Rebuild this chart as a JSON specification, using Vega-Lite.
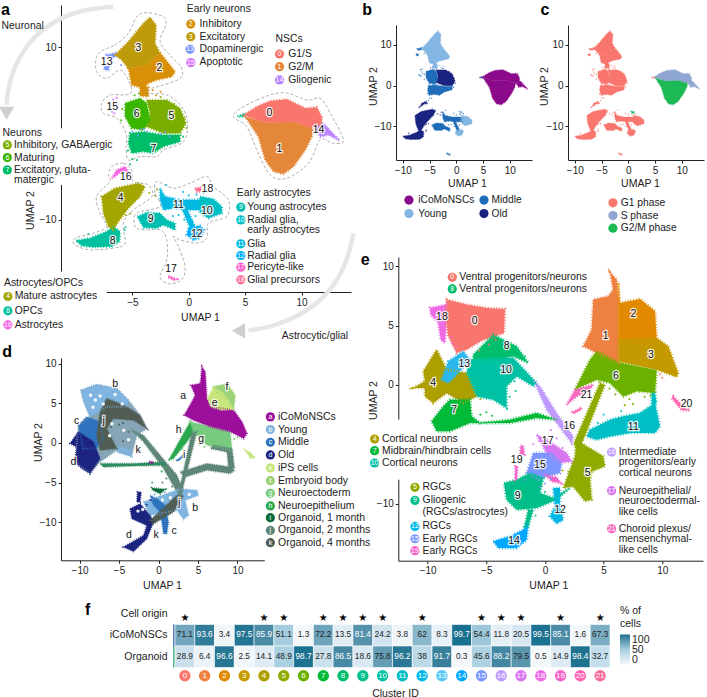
{"$schema":"https://vega.github.io/schema/vega-lite/v6.json","autosize":{"type":"none"},"padding":{"left":61,"top":5,"right":646,"bottom":692},"bounds":"flush","spacing":598,"resolve":{"scale":{"color":"independent","fill":"independent"}},
"config":{"view":{"stroke":null},"font":"Liberation Sans","text":{"font":"Liberation Sans","color":"#222"},"axis":{"grid":false,"domainColor":"#222","tickColor":"#222","labelColor":"#222","titleColor":"#222","titleFontWeight":"normal","tickSize":3,"labelFontSize":10,"titleFontSize":10.5,"labelPadding":2,"labelFont":"Liberation Sans","titleFont":"Liberation Sans","titleBaseline":"middle"}},
"datasets":{
"polyA":[
{"c":"3","x":-6.54,"y":9.07},{"c":"3","x":-5.36,"y":10.62},{"c":"3","x":-4.02,"y":12.74},{"c":"3","x":-3.43,"y":13.44},{"c":"3","x":-2.9,"y":12.55},{"c":"3","x":-2.99,"y":10.42},{"c":"3","x":-2.54,"y":9.27},{"c":"3","x":-3.73,"y":7.92},{"c":"3","x":-5.36,"y":7.53},{"c":"3","x":-5.95,"y":8.49},
{"c":"2","x":-5.36,"y":7.53},{"c":"2","x":-3.73,"y":7.92},{"c":"2","x":-2.54,"y":9.27},{"c":"2","x":-2.25,"y":8.88},{"c":"2","x":-1.21,"y":7.14},{"c":"2","x":-1.51,"y":6.56},{"c":"2","x":-2.84,"y":6.18},{"c":"2","x":-3.58,"y":5.79},{"c":"2","x":-4.02,"y":5.21},{"c":"2","x":-5.06,"y":5.6},
{"c":"2","p":"2b","x":-4.32,"y":5.6},{"c":"2","p":"2b","x":-3.58,"y":5.33},{"c":"2","p":"2b","x":-3.58,"y":4.25},{"c":"2","p":"2b","x":-4.32,"y":4.32},
{"c":"13","p":"13a","x":-7.28,"y":9.07},{"c":"13","p":"13a","x":-6.54,"y":9.27},{"c":"13","p":"13a","x":-6.54,"y":8.8},{"c":"13","p":"13a","x":-7.13,"y":8.69},
{"c":"13","p":"13b","x":-7.51,"y":7.8},{"c":"13","p":"13b","x":-7.04,"y":7.8},{"c":"13","p":"13b","x":-7.13,"y":7.34},{"c":"13","p":"13b","x":-7.46,"y":7.34},
{"c":"5","x":-3.73,"y":3.86},{"c":"5","x":-1.95,"y":3.86},{"c":"5","x":-0.77,"y":2.9},{"c":"5","x":-0.24,"y":1.16},{"c":"5","x":-0.77,"y":0},{"c":"5","x":-2.25,"y":0},{"c":"5","x":-3.73,"y":0.77},{"c":"5","x":-3.43,"y":2.32},
{"c":"7","x":-5.21,"y":0},{"c":"7","x":-4.02,"y":0.19},{"c":"7","x":-2.25,"y":-0.19},{"c":"7","x":-0.77,"y":-0.19},{"c":"7","x":-0.77,"y":-0.97},{"c":"7","x":-2.25,"y":-1.54},{"c":"7","x":-3.14,"y":-2.32},{"c":"7","x":-4.02,"y":-2.12},{"c":"7","x":-5.06,"y":-2.32},{"c":"7","x":-5.36,"y":-1.16},
{"c":"6","x":-5.65,"y":3.47},{"c":"6","x":-4.32,"y":4.05},{"c":"6","x":-3.73,"y":3.47},{"c":"6","x":-3.43,"y":1.54},{"c":"6","x":-4.02,"y":0.39},{"c":"6","x":-5.06,"y":0.58},{"c":"6","x":-5.65,"y":1.93},
{"c":"1","x":5,"y":1.93},{"c":"1","x":6.04,"y":1.54},{"c":"1","x":6.92,"y":1.24},{"c":"1","x":9.29,"y":1.35},{"c":"1","x":11.07,"y":0.58},{"c":"1","x":10.92,"y":-0.39},{"c":"1","x":10.33,"y":-1.93},{"c":"1","x":9.29,"y":-3.86},{"c":"1","x":8.4,"y":-4.71},{"c":"1","x":7.51,"y":-4.44},{"c":"1","x":6.78,"y":-3.09},{"c":"1","x":6.18,"y":-0.39},
{"c":"0","x":4.85,"y":2.12},{"c":"0","x":6.04,"y":3.09},{"c":"0","x":7.22,"y":3.75},{"c":"0","x":8.7,"y":3.94},{"c":"0","x":10.33,"y":2.9},{"c":"0","x":11.36,"y":3.01},{"c":"0","x":11.8,"y":1.93},{"c":"0","x":11.8,"y":0.97},{"c":"0","x":11.07,"y":0.58},{"c":"0","x":9.29,"y":1.35},{"c":"0","x":6.92,"y":1.24},{"c":"0","x":6.04,"y":1.54},
{"c":"14","x":11.21,"y":0.58},{"c":"14","x":11.95,"y":1.16},{"c":"14","x":13.37,"y":-0.85},{"c":"14","x":12.4,"y":-0.19},{"c":"14","x":11.66,"y":-0.39},
{"c":"8","p":"tip","x":4.32,"y":1.97},{"c":"8","p":"tip","x":4.85,"y":2.16},{"c":"8","p":"tip","x":4.85,"y":1.93},
{"c":"8","x":-10,"y":-12.43},{"c":"8","x":-8.76,"y":-12.16},{"c":"8","x":-7.28,"y":-11.39},{"c":"8","x":-6.69,"y":-10.81},{"c":"8","x":-6.09,"y":-11.39},{"c":"8","x":-6.15,"y":-12.55},{"c":"8","x":-6.83,"y":-13.13},{"c":"8","x":-8.46,"y":-13.2},{"c":"8","x":-9.5,"y":-13.05},
{"c":"4","x":-7.72,"y":-7.34},{"c":"4","x":-6.54,"y":-6.37},{"c":"4","x":-4.47,"y":-5.79},{"c":"4","x":-3.88,"y":-6.18},{"c":"4","x":-4.32,"y":-7.34},{"c":"4","x":-5.36,"y":-8.69},{"c":"4","x":-6.24,"y":-10.23},{"c":"4","x":-6.69,"y":-11.2},{"c":"4","x":-7.13,"y":-10.81},{"c":"4","x":-7.57,"y":-9.27},
{"c":"9","x":-4.56,"y":-9.65},{"c":"9","x":-3.73,"y":-9.19},{"c":"9","x":-2.54,"y":-9.27},{"c":"9","x":-1.95,"y":-10.04},{"c":"9","x":-1.21,"y":-10.42},{"c":"9","x":-1.21,"y":-11.2},{"c":"9","x":-2.25,"y":-10.62},{"c":"9","x":-2.84,"y":-11},{"c":"9","x":-4.02,"y":-10.93},
{"c":"11","x":-2.54,"y":-6.37},{"c":"11","x":-2.1,"y":-7.34},{"c":"11","x":-0.77,"y":-7.72},{"c":"11","x":1.01,"y":-7.72},{"c":"11","x":1.01,"y":-8.88},{"c":"11","x":-0.18,"y":-8.88},{"c":"11","x":-1.36,"y":-8.69},{"c":"11","x":-2.25,"y":-8.88},{"c":"11","x":-2.54,"y":-7.72},
{"c":"11","p":"11b","x":-0.62,"y":-8.69},{"c":"11","p":"11b","x":-0.18,"y":-8.69},{"c":"11","p":"11b","x":0.56,"y":-10.81},{"c":"11","p":"11b","x":0.12,"y":-11},
{"c":"10","x":1.01,"y":-7.34},{"c":"10","x":2.19,"y":-7.61},{"c":"10","x":2.93,"y":-8.49},{"c":"10","x":2.93,"y":-9.27},{"c":"10","x":1.75,"y":-9.85},{"c":"10","x":1.01,"y":-9.27},{"c":"10","x":0.86,"y":-8.3},
{"c":"12","x":-0.03,"y":-11},{"c":"12","x":1.01,"y":-10.73},{"c":"12","x":1.36,"y":-11.2},{"c":"12","x":1.01,"y":-12.16},{"c":"12","x":0.41,"y":-12.36},{"c":"12","x":-0.18,"y":-11.78},
{"c":"18","x":0.56,"y":-6.37},{"c":"18","x":1.09,"y":-6.25},{"c":"18","x":1.07,"y":-6.76},{"c":"18","x":0.71,"y":-6.76},
{"c":"16","x":-6.83,"y":-5.21},{"c":"16","x":-6.39,"y":-4.25},{"c":"16","x":-5.65,"y":-3.86},{"c":"16","x":-5.36,"y":-4.44},{"c":"16","x":-5.95,"y":-4.44},{"c":"16","x":-6.54,"y":-5.02},
{"c":"17","x":-1.8,"y":-16.53},{"c":"17","x":-1.07,"y":-16.91},{"c":"17","x":-1.3,"y":-17.03},{"c":"17","x":-1.8,"y":-16.72}
],
"specksA":[{"c":"15","x":-6.7,"y":3.9},{"c":"15","x":-6.8,"y":2.5},{"c":"15","x":-6.5,"y":3.4},{"c":"15","x":-7,"y":2.7},{"c":"15","x":-6.3,"y":2.9},{"c":"15","x":-6.6,"y":2.3},{"c":"15","x":-6.4,"y":4.1},{"c":"13","x":-6,"y":7.9},{"c":"2","x":-3.2,"y":5},{"c":"2","x":-3.6,"y":4.6},{"c":"2","x":-2.9,"y":4.4},{"c":"2","x":-2.5,"y":4.8},{"c":"6","x":-5.9,"y":2.8},{"c":"6","x":-6,"y":1.5},{"c":"6","x":-4.8,"y":4.4},{"c":"6","x":-4.4,"y":4.6},{"c":"5","x":-2.5,"y":4.2},{"c":"5","x":-1.3,"y":3.4},{"c":"5","x":-0.4,"y":1.8},{"c":"5","x":-0.2,"y":0.6},{"c":"13","x":-4,"y":0.5},{"c":"13","x":-3.7,"y":0.2},{"c":"13","x":-4.3,"y":0.4},{"c":"13","x":-2.5,"y":-0.1},{"c":"13","x":-2.1,"y":0.1},{"c":"13","x":-1.7,"y":-0.4},{"c":"13","x":-5,"y":0.2},{"c":"13","x":-4.5,"y":-0.3},{"c":"7","x":-5.4,"y":-2},{"c":"7","x":-5,"y":-3},{"c":"7","x":-4.6,"y":-3.1},{"c":"7","x":-5.2,"y":-3.6},{"c":"7","x":-0.5,"y":-0.4},{"c":"4","x":-3.5,"y":-6.9},{"c":"4","x":-3,"y":-7.2},{"c":"4","x":-2.8,"y":-6.5},{"c":"4","x":-5.6,"y":-9.5},{"c":"4","x":-5.2,"y":-9.3},{"c":"8","x":-5.7,"y":-11.2},{"c":"8","x":-5.6,"y":-10.9},{"c":"8","x":-8.9,"y":-11.7},{"c":"11","x":-0.5,"y":-6.8},{"c":"11","x":0,"y":-7.2},{"c":"11","x":1.3,"y":-6.9},{"c":"11","x":-2,"y":-6},{"c":"11","x":-1.8,"y":-8},{"c":"11","x":-0.9,"y":-9.5},{"c":"11","x":-0.4,"y":-10},{"c":"11","x":0.6,"y":-9.6},{"c":"11","x":0.3,"y":-10.2},{"c":"11","x":-1.4,"y":-9.6},{"c":"11","x":0.7,"y":-7.1}],
"regionsA":[
{"r":"1","x":-7.57,"y":9.65},{"r":"1","x":-6.54,"y":10.23},{"r":"1","x":-5.36,"y":11.58},{"r":"1","x":-4.62,"y":13.51},{"r":"1","x":-3.73,"y":13.98},{"r":"1","x":-2.25,"y":13.51},{"r":"1","x":-2.04,"y":12.55},{"r":"1","x":-2.54,"y":10.62},{"r":"1","x":-1.66,"y":9.07},{"r":"1","x":-0.62,"y":7.53},{"r":"1","x":-0.77,"y":6.37},{"r":"1","x":-2.25,"y":5.6},{"r":"1","x":-3.28,"y":5.21},{"r":"1","x":-3.73,"y":4.63},{"r":"1","x":-1.95,"y":4.44},{"r":"1","x":-0.62,"y":3.09},{"r":"1","x":-0.12,"y":1.16},{"r":"1","x":-0.47,"y":-0.97},{"r":"1","x":-2.25,"y":-1.93},{"r":"1","x":-2.84,"y":-2.7},{"r":"1","x":-4.32,"y":-2.7},{"r":"1","x":-5.36,"y":-3.09},{"r":"1","x":-5.56,"y":-1.54},{"r":"1","x":-5.56,"y":0},{"r":"1","x":-6.39,"y":1.74},{"r":"1","x":-7.57,"y":2.32},{"r":"1","x":-7.72,"y":3.47},{"r":"1","x":-6.98,"y":4.44},{"r":"1","x":-5.65,"y":4.44},{"r":"1","x":-5.06,"y":4.83},{"r":"1","x":-5.36,"y":6.18},{"r":"1","x":-6.09,"y":7.34},{"r":"1","x":-7.28,"y":6.37},{"r":"1","x":-8.17,"y":7.14},{"r":"1","x":-8.17,"y":8.88},
{"r":"2","x":3.96,"y":2.12},{"r":"2","x":6.04,"y":3.86},{"r":"2","x":8.4,"y":4.71},{"r":"2","x":10.47,"y":3.86},{"r":"2","x":11.66,"y":4.05},{"r":"2","x":12.54,"y":2.32},{"r":"2","x":13.73,"y":-0.77},{"r":"2","x":12.84,"y":-1.16},{"r":"2","x":11.66,"y":-0.77},{"r":"2","x":10.62,"y":-3.47},{"r":"2","x":8.7,"y":-5.21},{"r":"2","x":7.22,"y":-4.83},{"r":"2","x":6.04,"y":-1.93},{"r":"2","x":5.15,"y":0.77},
{"r":"3","x":-6.83,"y":-3.86},{"r":"3","x":-5.8,"y":-3.47},{"r":"3","x":-5.06,"y":-4.25},{"r":"3","x":-4.91,"y":-5.6},{"r":"3","x":-3.58,"y":-5.98},{"r":"3","x":-3.28,"y":-7.34},{"r":"3","x":-4.91,"y":-8.88},{"r":"3","x":-5.8,"y":-10.42},{"r":"3","x":-5.65,"y":-12.74},{"r":"3","x":-6.69,"y":-13.32},{"r":"3","x":-8.76,"y":-13.51},{"r":"3","x":-10.09,"y":-12.93},{"r":"3","x":-10.09,"y":-12.16},{"r":"3","x":-8.46,"y":-11.58},{"r":"3","x":-7.28,"y":-10.81},{"r":"3","x":-7.87,"y":-9.27},{"r":"3","x":-8.17,"y":-7.34},{"r":"3","x":-6.98,"y":-5.6},{"r":"3","x":-7.13,"y":-5.02},
{"r":"4","x":-2.84,"y":-5.6},{"r":"4","x":-1.36,"y":-6.37},{"r":"4","x":0.12,"y":-5.79},{"r":"4","x":1.6,"y":-5.02},{"r":"4","x":2.19,"y":-6.18},{"r":"4","x":3.52,"y":-7.72},{"r":"4","x":3.37,"y":-9.65},{"r":"4","x":1.75,"y":-10.42},{"r":"4","x":1.6,"y":-12.16},{"r":"4","x":0.71,"y":-12.74},{"r":"4","x":-0.77,"y":-12.36},{"r":"4","x":-1.36,"y":-11.97},{"r":"4","x":-0.92,"y":-13.13},{"r":"4","x":-0.33,"y":-15.44},{"r":"4","x":-0.62,"y":-16.99},{"r":"4","x":-1.8,"y":-17.45},{"r":"4","x":-2.54,"y":-16.6},{"r":"4","x":-1.95,"y":-14.67},{"r":"4","x":-1.95,"y":-12.36},{"r":"4","x":-2.54,"y":-11.2},{"r":"4","x":-4.02,"y":-11.2},{"r":"4","x":-4.76,"y":-10.81},{"r":"4","x":-4.62,"y":-9.27},{"r":"4","x":-2.54,"y":-8.49},{"r":"4","x":-2.99,"y":-6.95}
],
"polyE":[
{"c":"18","x":-9.8,"y":6.49},{"c":"18","x":-8.38,"y":6.77},{"c":"18","x":-8.44,"y":4.8},{"c":"18","x":-8.52,"y":3.54},{"c":"18","x":-8.89,"y":3.82},{"c":"18","x":-9.09,"y":5.22},{"c":"18","x":-9.74,"y":5.93},
{"c":"0","x":-8.38,"y":7.19},{"c":"0","x":-6.68,"y":6.77},{"c":"0","x":-4.97,"y":6.49},{"c":"0","x":-3.41,"y":6.4},{"c":"0","x":-3.49,"y":4.38},{"c":"0","x":-4.69,"y":3.96},{"c":"0","x":-5.26,"y":3.82},{"c":"0","x":-6.68,"y":2.98},{"c":"0","x":-7.53,"y":2.7},{"c":"0","x":-8.24,"y":4.1},{"c":"0","x":-8.52,"y":5.93},
{"c":"1","x":5.54,"y":9.49},{"c":"1","x":6.11,"y":8.88},{"c":"1","x":6.25,"y":7.19},{"c":"1","x":6.25,"y":1.85},{"c":"1","x":4.69,"y":2.56},{"c":"1","x":3.27,"y":3.26},{"c":"1","x":3.98,"y":4.66},{"c":"1","x":4.12,"y":7.19},{"c":"1","x":5.4,"y":7.47},{"c":"1","x":5.82,"y":8.03},
{"c":"2","x":6.25,"y":8.6},{"c":"2","x":6.39,"y":6.91},{"c":"2","x":8.1,"y":7.25},{"c":"2","x":9.38,"y":6.21},{"c":"2","x":9.52,"y":3.96},{"c":"2","x":8.95,"y":3.54},{"c":"2","x":6.25,"y":3.82},
{"c":"3","x":6.25,"y":3.82},{"c":"3","x":9.52,"y":3.96},{"c":"3","x":10.51,"y":3.26},{"c":"3","x":11.36,"y":1.01},{"c":"3","x":11.22,"y":0.67},{"c":"3","x":9.52,"y":1.29},{"c":"3","x":6.25,"y":1.99},
{"c":"11","x":3.84,"y":-3.76},{"c":"11","x":5.54,"y":-2.92},{"c":"11","x":6.68,"y":-2.64},{"c":"11","x":8.1,"y":-2.36},{"c":"11","x":9.38,"y":-1.52},{"c":"11","x":9.8,"y":-3.48},{"c":"11","x":9.38,"y":-4.04},{"c":"11","x":7.24,"y":-4.04},{"c":"11","x":5.54,"y":-4.33},{"c":"11","x":4.4,"y":-4.61},{"c":"11","x":3.55,"y":-4.33},
{"c":"11","p":"11s","x":9.09,"y":-0.67},{"c":"11","p":"11s","x":9.38,"y":-0.67},{"c":"11","p":"11s","x":9.52,"y":-1.52},{"c":"11","p":"11s","x":9.09,"y":-1.66},
{"c":"6","x":2.56,"y":-0.39},{"c":"6","x":3.84,"y":2.13},{"c":"6","x":4.4,"y":2.84},{"c":"6","x":6.25,"y":1.91},{"c":"6","x":9.52,"y":1.24},{"c":"6","x":9.38,"y":-0.67},{"c":"6","x":7.81,"y":-0.53},{"c":"6","x":6.68,"y":-0.96},{"c":"6","x":5.54,"y":0.17},{"c":"6","x":4.4,"y":0.45},
{"c":"21","x":1.85,"y":-1.66},{"c":"21","x":2.56,"y":-0.39},{"c":"21","x":4.12,"y":0.03},{"c":"21","x":3.84,"y":-0.39},{"c":"21","x":2.7,"y":-0.96},
{"c":"20","p":"21b","x":2.36,"y":-2.3},{"c":"20","p":"21b","x":3.13,"y":-1.88},{"c":"20","p":"21b","x":3.07,"y":-2.08},{"c":"20","p":"21b","x":2.41,"y":-2.42},
{"c":"20","x":10.94,"y":-0.96},{"c":"20","x":11.93,"y":-1.94},{"c":"20","x":12.36,"y":-2.13},{"c":"20","x":11.65,"y":-2.13},{"c":"20","x":10.8,"y":-1.1},
{"c":"16","x":-0.99,"y":0.45},{"c":"16","x":-0.43,"y":-0.11},{"c":"16","x":0.99,"y":-2.36},{"c":"16","x":2.41,"y":-4.33},{"c":"16","x":2.27,"y":-4.89},{"c":"16","x":1.42,"y":-3.76},{"c":"16","x":0.14,"y":-2.08},
{"c":"17","x":-0.71,"y":-4.19},{"c":"17","x":0.14,"y":-4.61},{"c":"17","x":1.85,"y":-5.73},{"c":"17","x":2.27,"y":-6.43},{"c":"17","x":1.28,"y":-6.57},{"c":"17","x":0.14,"y":-5.73},
{"c":"15","x":-0.99,"y":-5.73},{"c":"15","x":0.57,"y":-5.73},{"c":"15","x":1.42,"y":-6.57},{"c":"15","x":1.28,"y":-7.42},{"c":"15","x":0.14,"y":-7.7},{"c":"15","x":-0.57,"y":-7.98},{"c":"15","x":-1.56,"y":-7.42},
{"c":"9","x":-3.49,"y":-8.26},{"c":"9","x":-2.41,"y":-7.98},{"c":"9","x":-1.28,"y":-7.42},{"c":"9","x":-0.14,"y":-7.84},{"c":"9","x":-0.43,"y":-9.1},{"c":"9","x":0.71,"y":-9.52},{"c":"9","x":2.13,"y":-8.68},{"c":"9","x":0.99,"y":-9.66},{"c":"9","x":-0.71,"y":-10.37},{"c":"9","x":-2.41,"y":-10.51},{"c":"9","x":-3.27,"y":-9.66},
{"c":"12","x":0.71,"y":-8.68},{"c":"12","x":1.28,"y":-8.68},{"c":"12","x":1.28,"y":-10.22},{"c":"12","x":1.56,"y":-11.35},{"c":"12","x":0.99,"y":-11.69},{"c":"12","x":0.43,"y":-11.07},{"c":"12","x":0.85,"y":-10.22},
{"c":"5","x":2.7,"y":-4.61},{"c":"5","x":3.55,"y":-5.17},{"c":"5","x":4.97,"y":-6.01},{"c":"5","x":5.11,"y":-6.85},{"c":"5","x":3.98,"y":-7.28},{"c":"5","x":3.84,"y":-7.98},{"c":"5","x":3.98,"y":-9.66},{"c":"5","x":3.41,"y":-9.8},{"c":"5","x":2.41,"y":-8.54},{"c":"5","x":1.56,"y":-8.68},{"c":"5","x":2.56,"y":-6.01},
{"c":"5","p":"5s","x":4.69,"y":0.17},{"c":"5","p":"5s","x":5.11,"y":0.03},{"c":"5","p":"5s","x":3.27,"y":-4.61},{"c":"5","p":"5s","x":2.7,"y":-5.45},{"c":"5","p":"5s","x":2.47,"y":-4.89},
{"c":"19","p":"19a","x":-2.07,"y":-5.11},{"c":"19","p":"19a","x":-1.85,"y":-5.11},{"c":"19","p":"19a","x":-1.76,"y":-5.87},{"c":"19","p":"19a","x":-2.13,"y":-5.87},
{"c":"19","p":"19b","x":-2.53,"y":-6.85},{"c":"19","p":"19b","x":-2.33,"y":-6.85},{"c":"19","p":"19b","x":-2.39,"y":-7.98},{"c":"19","p":"19b","x":-2.56,"y":-7.98},
{"c":"19","p":"19c","x":0.14,"y":-7.64},{"c":"19","p":"19c","x":0.99,"y":-7.75},{"c":"19","p":"19c","x":1.34,"y":-8.26},{"c":"19","p":"19c","x":0.57,"y":-8.12},
{"c":"14","x":-4.4,"y":-13.17},{"c":"14","x":-2.98,"y":-12.75},{"c":"14","x":-1.85,"y":-12.19},{"c":"14","x":-1.42,"y":-11.63},{"c":"14","x":-1.56,"y":-13.03},{"c":"14","x":-2.41,"y":-13.74},{"c":"14","x":-3.98,"y":-13.74},
{"c":"9","p":"14s","x":-1.42,"y":-10.51},{"c":"9","p":"14s","x":-0.99,"y":-10.51},{"c":"9","p":"14s","x":-1.42,"y":-11.91},{"c":"9","p":"14s","x":-1.79,"y":-12.05},
{"c":"4","x":-11.22,"y":-0.25},{"c":"4","x":-10.23,"y":0.31},{"c":"4","x":-10.37,"y":1.15},{"c":"4","x":-9.23,"y":2.98},{"c":"4","x":-8.38,"y":1.29},{"c":"4","x":-6.68,"y":1.01},{"c":"4","x":-5.82,"y":-0.96},{"c":"4","x":-6.96,"y":-1.52},{"c":"4","x":-8.38,"y":-0.67},{"c":"4","x":-9.52,"y":-1.52},{"c":"4","x":-10.23,"y":-0.96},{"c":"4","x":-10.23,"y":-0.25},
{"c":"13","x":-8.24,"y":1.99},{"c":"13","x":-6.96,"y":2.84},{"c":"13","x":-6.39,"y":2.13},{"c":"13","x":-7.24,"y":1.15},{"c":"13","x":-8.24,"y":0.17},{"c":"13","x":-8.81,"y":0.45},
{"c":"8","x":-6.11,"y":2.56},{"c":"8","x":-5.11,"y":3.54},{"c":"8","x":-4.4,"y":4.24},{"c":"8","x":-2.41,"y":3.26},{"c":"8","x":-1.42,"y":1.85},{"c":"8","x":-2.7,"y":2.42},{"c":"8","x":-4.12,"y":2.13},{"c":"8","x":-6.11,"y":2.13},
{"c":"10","x":-6.39,"y":2.13},{"c":"10","x":-4.12,"y":2.28},{"c":"10","x":-2.7,"y":2.28},{"c":"10","x":-0.71,"y":0.17},{"c":"10","x":-0.99,"y":-0.11},{"c":"10","x":-2.41,"y":0.73},{"c":"10","x":-3.27,"y":-0.11},{"c":"10","x":-3.27,"y":-1.94},{"c":"10","x":-4.4,"y":-1.24},{"c":"10","x":-5.82,"y":-0.96},{"c":"10","x":-6.68,"y":1.01},
{"c":"7","x":-9.66,"y":-3.06},{"c":"7","x":-8.66,"y":-1.8},{"c":"7","x":-8.1,"y":-1.24},{"c":"7","x":-6.39,"y":-1.24},{"c":"7","x":-6.25,"y":-2.64},{"c":"7","x":-5.54,"y":-3.2},{"c":"7","x":-2.98,"y":-2.92},{"c":"7","x":-0.71,"y":-2.36},{"c":"7","x":0.99,"y":-2.92},{"c":"7","x":-0.71,"y":-2.78},{"c":"7","x":-2.98,"y":-3.2},{"c":"7","x":-6.39,"y":-3.2},{"c":"7","x":-8.1,"y":-3.9},{"c":"7","x":-9.23,"y":-3.9}
],
"specksE":[{"c":"6","x":5.5,"y":-0.3},{"c":"6","x":6,"y":-0.8},{"c":"6","x":7.2,"y":-1.2},{"c":"6","x":8.5,"y":-1},{"c":"6","x":9,"y":-0.9},{"c":"6","x":7.5,"y":-1.6},{"c":"6","x":6.8,"y":-1.7},{"c":"0","x":10,"y":0.6},{"c":"0","x":9.8,"y":0.9},{"c":"11","x":5,"y":-2.5},{"c":"11","x":6.5,"y":-2.2},{"c":"11","x":4.5,"y":-3.2},{"c":"9","x":-1,"y":-9},{"c":"9","x":0,"y":-9},{"c":"9","x":-0.3,"y":-8.5},{"c":"9","x":1,"y":-9},{"c":"9","x":-0.8,"y":-11},{"c":"9","x":-1.2,"y":-10.8},{"c":"15","x":0,"y":-8.3},{"c":"15","x":-0.4,"y":-8.6},{"c":"15","x":0.5,"y":-7.9},{"c":"15","x":-1.7,"y":-8},{"c":"17","x":0.5,"y":-3.8},{"c":"17","x":-0.5,"y":-4.7},{"c":"17","x":1,"y":-4.5},{"c":"17","x":-1,"y":-5},{"c":"17","x":1.5,"y":-5.3},{"c":"5","x":2,"y":-7.3},{"c":"5","x":1.5,"y":-7.2},{"c":"12","x":0.9,"y":-9},{"c":"12","x":1,"y":-9.3},{"c":"18","x":-7.9,"y":3.5},{"c":"18","x":-7.6,"y":3.2},{"c":"18","x":-8,"y":4},{"c":"0","x":-4.8,"y":3.4},{"c":"0","x":-5.6,"y":2.9},{"c":"0","x":-4.2,"y":3.8},{"c":"7","x":-5,"y":-2.3},{"c":"7","x":-4.5,"y":-2.6},{"c":"7","x":-5.5,"y":-2.5},{"c":"10","x":-2.5,"y":-0.5},{"c":"10","x":-3,"y":-1},{"c":"10","x":-2.6,"y":0.3},{"c":"10","x":-1.7,"y":0.5},{"c":"8","x":-1.7,"y":2.4},{"c":"4","x":-5.5,"y":-1.2}],
"polyD":[
{"c":"bm","x":-9.81,"y":6.65},{"c":"bm","x":-7.83,"y":7.37},{"c":"bm","x":-5.29,"y":6.86},{"c":"bm","x":-3.81,"y":5.39},{"c":"bm","x":-2.33,"y":3.49},{"c":"bm","x":-1.48,"y":1.81},{"c":"bm","x":-2.75,"y":0.97},{"c":"bm","x":-3.38,"y":-1.56},{"c":"bm","x":-5.29,"y":-0.93},{"c":"bm","x":-7.4,"y":-2.4},{"c":"bm","x":-8.67,"y":-3.87},{"c":"bm","x":-10.58,"y":-2.4},{"c":"bm","x":-10.15,"y":2.23},{"c":"bm","x":-8.67,"y":3.28},{"c":"bm","x":-9.52,"y":5.39},
{"c":"b","x":-9.81,"y":6.65},{"c":"b","x":-7.83,"y":7.37},{"c":"b","x":-5.29,"y":6.86},{"c":"b","x":-3.81,"y":5.39},{"c":"b","x":-4.02,"y":4.55},{"c":"b","x":-6.56,"y":4.55},{"c":"b","x":-8.67,"y":3.28},{"c":"b","x":-9.52,"y":5.39},
{"c":"b","p":"b2","x":-5.08,"y":-0.51},{"c":"b","p":"b2","x":-3.38,"y":-0.93},{"c":"b","p":"b2","x":-3.38,"y":-1.77},{"c":"b","p":"b2","x":-5.29,"y":-1.14},
{"c":"c","x":-10.15,"y":2.23},{"c":"c","x":-9.09,"y":3.28},{"c":"c","x":-7.4,"y":2.65},{"c":"c","x":-6.98,"y":0.55},{"c":"c","x":-7.83,"y":-0.72},{"c":"c","x":-9.52,"y":-0.72},
{"c":"d","x":-11.21,"y":-0.08},{"c":"d","x":-10.15,"y":1.39},{"c":"d","x":-8.25,"y":0.13},{"c":"d","x":-7.4,"y":-1.98},{"c":"d","x":-8.67,"y":-3.87},{"c":"d","x":-9.73,"y":-3.24},{"c":"d","x":-10.58,"y":-2.4},{"c":"d","x":-10.36,"y":-0.51},
{"c":"k","x":-7.83,"y":0.97},{"c":"k","x":-7.4,"y":3.91},{"c":"k","x":-6.56,"y":5.6},{"c":"k","x":-4.44,"y":4.76},{"c":"k","x":-2.33,"y":3.49},{"c":"k","x":-1.48,"y":1.81},{"c":"k","x":-3.17,"y":2.86},{"c":"k","x":-5.71,"y":3.07},{"c":"k","x":-6.56,"y":1.81},{"c":"k","x":-5.29,"y":-0.72},{"c":"k","x":-7.4,"y":-0.93},
{"c":"j","p":"js","x":-3.38,"y":1.6},{"c":"j","p":"js","x":-1.9,"y":0.97},{"c":"j","p":"js","x":0.21,"y":-1.56},{"c":"j","p":"js","x":2.33,"y":-4.08},{"c":"j","p":"js","x":3.17,"y":-6.19},{"c":"j","p":"js","x":2.33,"y":-6.19},{"c":"j","p":"js","x":0.63,"y":-3.24},{"c":"j","p":"js","x":-1.9,"y":0.13},
{"c":"h2","x":-7.4,"y":-2.61},{"c":"h2","x":-3.17,"y":-2.61},{"c":"h2","x":0.63,"y":-2.4},{"c":"h2","x":0.85,"y":-2.82},{"c":"h2","x":-3.17,"y":-2.9},{"c":"h2","x":-6.98,"y":-3.03},
{"c":"b","p":"b3","x":-1.9,"y":-7.45},{"c":"b","p":"b3","x":2.75,"y":-5.77},{"c":"b","p":"b3","x":4.86,"y":-5.98},{"c":"b","p":"b3","x":5.08,"y":-6.61},{"c":"b","p":"b3","x":3.38,"y":-7.24},{"c":"b","p":"b3","x":3.81,"y":-9.13},{"c":"b","p":"b3","x":3.17,"y":-9.64},{"c":"b","p":"b3","x":2.33,"y":-8.5},{"c":"b","p":"b3","x":-1.06,"y":-9.13},
{"c":"c","p":"c3","x":-1.06,"y":-6.61},{"c":"c","p":"c3","x":-0.21,"y":-7.03},{"c":"c","p":"c3","x":0.85,"y":-7.87},{"c":"c","p":"c3","x":1.27,"y":-9.97},{"c":"c","p":"c3","x":1.06,"y":-11.45},{"c":"c","p":"c3","x":0.63,"y":-11.45},{"c":"c","p":"c3","x":0.42,"y":-9.97},{"c":"c","p":"c3","x":0.21,"y":-8.71},{"c":"c","p":"c3","x":-0.63,"y":-7.87},
{"c":"d","p":"d3","x":-3.6,"y":-8.29},{"c":"d","p":"d3","x":-2.33,"y":-7.66},{"c":"d","p":"d3","x":-1.06,"y":-9.13},{"c":"d","p":"d3","x":-0.63,"y":-9.97},{"c":"d","p":"d3","x":-1.48,"y":-12.08},{"c":"d","p":"d3","x":-3.17,"y":-13.68},{"c":"d","p":"d3","x":-4.44,"y":-13.13},{"c":"d","p":"d3","x":-1.9,"y":-11.66},{"c":"d","p":"d3","x":-1.48,"y":-10.4},{"c":"d","p":"d3","x":-3.38,"y":-9.55},
{"c":"d","p":"d4","x":-2.66,"y":-6.19},{"c":"d","p":"d4","x":-2.2,"y":-6.19},{"c":"d","p":"d4","x":-2.33,"y":-7.45},{"c":"d","p":"d4","x":-2.75,"y":-7.45},
{"c":"k","p":"k3","x":-1.06,"y":-9.76},{"c":"k","p":"k3","x":2.33,"y":-6.61},{"c":"k","p":"k3","x":3.17,"y":-6.61},{"c":"k","p":"k3","x":1.9,"y":-8.71},{"c":"k","p":"k3","x":-0.63,"y":-10.19},
{"c":"h","x":1.27,"y":-2.19},{"c":"h","x":4.02,"y":2.65},{"c":"h","x":4.44,"y":1.39},{"c":"h","x":3.6,"y":0.13},{"c":"h","x":1.9,"y":-1.98},
{"c":"g","x":4.02,"y":2.65},{"c":"g","x":9.09,"y":1.39},{"c":"g","x":9.31,"y":-0.93},{"c":"g","x":6.13,"y":-0.29},{"c":"g","x":4.44,"y":1.39},
{"c":"j","p":"jv","x":4.23,"y":1.39},{"c":"j","p":"jv","x":4.86,"y":1.39},{"c":"j","p":"jv","x":3.38,"y":-4.5},{"c":"j","p":"jv","x":2.75,"y":-7.03},{"c":"j","p":"jv","x":2.33,"y":-7.03},{"c":"j","p":"jv","x":2.96,"y":-4.5},
{"c":"j","p":"jr","x":2.75,"y":-3.66},{"c":"j","p":"jr","x":6.13,"y":-2.61},{"c":"j","p":"jr","x":9.09,"y":-3.03},{"c":"j","p":"jr","x":9.64,"y":-3.45},{"c":"j","p":"jr","x":9.09,"y":-3.87},{"c":"j","p":"jr","x":6.13,"y":-3.45},{"c":"j","p":"jr","x":3.38,"y":-4.29},
{"c":"j","p":"jr2","x":6.98,"y":-0.29},{"c":"j","p":"jr2","x":9.31,"y":-0.72},{"c":"j","p":"jr2","x":9.64,"y":-3.24},{"c":"j","p":"jr2","x":8.88,"y":-3.24},{"c":"j","p":"jr2","x":8.67,"y":-1.14},{"c":"j","p":"jr2","x":6.56,"y":-0.72},
{"c":"a","x":3.26,"y":3.49},{"c":"a","x":4.1,"y":4.97},{"c":"a","x":4.65,"y":6.02},{"c":"a","x":4.1,"y":7.28},{"c":"a","x":5.29,"y":7.49},{"c":"a","x":5.5,"y":9.6},{"c":"a","x":5.92,"y":8.96},{"c":"a","x":6.13,"y":5.6},{"c":"a","x":6.56,"y":4.55},{"c":"a","x":9.52,"y":4.12},{"c":"a","x":10.58,"y":2.65},{"c":"a","x":11.21,"y":1.18},{"c":"a","x":10.79,"y":0.55},{"c":"a","x":9.09,"y":1.39},{"c":"a","x":6.56,"y":2.02},{"c":"a","x":4.44,"y":2.86},
{"c":"f","x":6.98,"y":7.07},{"c":"f","x":8.67,"y":7.49},{"c":"f","x":9.73,"y":6.02},{"c":"f","x":9.52,"y":4.25},{"c":"f","x":8.67,"y":5.6},{"c":"f","x":7.4,"y":6.44},
{"c":"e","x":6.22,"y":5.6},{"c":"e","x":6.98,"y":7.07},{"c":"e","x":8.25,"y":6.23},{"c":"e","x":9.52,"y":4.25},{"c":"e","x":8.04,"y":4.12},{"c":"e","x":6.64,"y":4.55},
{"c":"e","p":"e2","x":11,"y":-0.93},{"c":"e","p":"e2","x":11.55,"y":-1.14},{"c":"e","p":"e2","x":12.27,"y":-1.89},{"c":"e","p":"e2","x":11.63,"y":-1.89},
{"c":"i","x":-0.85,"y":-5.68},{"c":"i","x":0.85,"y":-5.85},{"c":"i","x":0.21,"y":-6.4},{"c":"i","x":-0.72,"y":-5.98},
{"c":"c","p":"ib","x":2.33,"y":-2.19},{"c":"c","p":"ib","x":3,"y":-1.64},{"c":"c","p":"ib","x":3.09,"y":-1.81},{"c":"c","p":"ib","x":2.41,"y":-2.31},
{"c":"a","p":"a2","x":-1.14,"y":-2.31},{"c":"a","p":"a2","x":-0.63,"y":-2.4},{"c":"a","p":"a2","x":-0.72,"y":-2.57},{"c":"a","p":"a2","x":-1.14,"y":-2.48}
],
"specksD":[{"c":"g","x":5.2,"y":-0.2},{"c":"g","x":5.8,"y":-0.5},{"c":"g","x":7.2,"y":0.8},{"c":"g","x":9.6,"y":0.5},{"c":"g","x":10,"y":0.7},{"c":"g","x":3,"y":-0.8},{"c":"h","x":0.8,"y":-3.2},{"c":"h","x":0.4,"y":-3.6},{"c":"k","x":-6,"y":2},{"c":"k","x":-5,"y":2.3},{"c":"k","x":-4.5,"y":2.5},{"c":"k","x":-6.5,"y":0.4},{"c":"k","x":-4.5,"y":0.2},{"c":"k","x":-3.8,"y":1.4},{"c":"j","x":0.5,"y":-5},{"c":"j","x":1,"y":-4.5},{"c":"j","x":-0.8,"y":-5},{"c":"j","x":1.7,"y":-5.5},{"c":"b","x":-0.5,"y":-6.5},{"c":"b","x":0.8,"y":-6.2},{"c":"d","x":-1.5,"y":-7.8},{"c":"d","x":-1,"y":-7.2}],
"heat":[{"cluster":"0","row":"iCoMoNSCs","value":71.1},{"cluster":"1","row":"iCoMoNSCs","value":93.6},{"cluster":"2","row":"iCoMoNSCs","value":3.4},{"cluster":"3","row":"iCoMoNSCs","value":97.5},{"cluster":"4","row":"iCoMoNSCs","value":85.9},{"cluster":"5","row":"iCoMoNSCs","value":51.1},{"cluster":"6","row":"iCoMoNSCs","value":1.3},{"cluster":"7","row":"iCoMoNSCs","value":72.2},{"cluster":"8","row":"iCoMoNSCs","value":13.5},{"cluster":"9","row":"iCoMoNSCs","value":81.4},{"cluster":"10","row":"iCoMoNSCs","value":24.2},{"cluster":"11","row":"iCoMoNSCs","value":3.8},{"cluster":"12","row":"iCoMoNSCs","value":62},{"cluster":"13","row":"iCoMoNSCs","value":8.3},{"cluster":"14","row":"iCoMoNSCs","value":99.7},{"cluster":"15","row":"iCoMoNSCs","value":54.4},{"cluster":"16","row":"iCoMoNSCs","value":11.8},{"cluster":"17","row":"iCoMoNSCs","value":20.5},{"cluster":"18","row":"iCoMoNSCs","value":99.5},{"cluster":"19","row":"iCoMoNSCs","value":85.1},{"cluster":"20","row":"iCoMoNSCs","value":1.6},{"cluster":"21","row":"iCoMoNSCs","value":67.3},
{"cluster":"0","row":"Organoid","value":28.9},{"cluster":"1","row":"Organoid","value":6.4},{"cluster":"2","row":"Organoid","value":96.6},{"cluster":"3","row":"Organoid","value":2.5},{"cluster":"4","row":"Organoid","value":14.1},{"cluster":"5","row":"Organoid","value":48.9},{"cluster":"6","row":"Organoid","value":98.7},{"cluster":"7","row":"Organoid","value":27.8},{"cluster":"8","row":"Organoid","value":86.5},{"cluster":"9","row":"Organoid","value":18.6},{"cluster":"10","row":"Organoid","value":75.8},{"cluster":"11","row":"Organoid","value":96.2},{"cluster":"12","row":"Organoid","value":38},{"cluster":"13","row":"Organoid","value":91.7},{"cluster":"14","row":"Organoid","value":0.3},{"cluster":"15","row":"Organoid","value":45.6},{"cluster":"16","row":"Organoid","value":88.2},{"cluster":"17","row":"Organoid","value":79.5},{"cluster":"18","row":"Organoid","value":0.5},{"cluster":"19","row":"Organoid","value":14.9},{"cluster":"20","row":"Organoid","value":98.4},{"cluster":"21","row":"Organoid","value":32.7}]
},
"vconcat":[
{"bounds":"flush","spacing":335,"resolve":{"scale":{"color":"independent"}},"hconcat":[
{"bounds":"flush","spacing":66,"resolve":{"scale":{"color":"independent"}},"vconcat":[
{"width":290,"height":287,
"encoding":{"x":{"field":"x","type":"quantitative","scale":{"domain":[-11.33,14.39],"nice":false,"zero":false},"axis":{"values":[-5,0,5,10],"title":"UMAP 1","titleX":139,"titleY":25}},"y":{"field":"y","type":"quantitative","scale":{"domain":[-18.4,14.87],"nice":false,"zero":false},"axis":{"values":[-10,10],"title":"UMAP 2","titleX":-31,"titleY":205}}},
"layer":[
{"data":{"values":[{"a":"1","x":-6.69,"y":14.67},{"a":"1","x":-9.94,"y":14.29},{"a":"1","x":-12.9,"y":12.36},{"a":"1","x":-14.97,"y":9.27},{"a":"1","x":-16,"y":5.79},{"a":"1","x":-16.15,"y":3.28},{"a":"2","x":14.62,"y":-11.58},{"a":"2","x":14.02,"y":-15.06},{"a":"2","x":12.54,"y":-18.53},{"a":"2","x":9.88,"y":-21.24},{"a":"2","x":6.92,"y":-22.59},{"a":"2","x":5.3,"y":-22.86}]},"mark":{"type":"line","interpolate":"basis","color":"#e6e6e6","strokeWidth":4.5,"clip":false},"encoding":{"detail":{"field":"a"},"order":{"value":null}}},
{"data":{"values":[{"x":-16.15,"y":2.32}]},"mark":{"type":"point","shape":"triangle-down","filled":true,"color":"#cfcfcf","size":230,"opacity":1}},
{"data":{"values":[{"x":4.41,"y":-22.9}]},"mark":{"type":"point","shape":"triangle-left","filled":true,"color":"#cfcfcf","size":230,"opacity":1}},
{"data":{"values":[{"x":-11.72,"x2":-10.98,"y":0.58,"y2":-5.98},{"x":-11.72,"x2":-7.28,"y":-16.02,"y2":-18.9}]},"mark":{"type":"rect","color":"#fff"},"encoding":{"x2":{"field":"x2"},"y2":{"field":"y2"}}},
{"data":{"name":"polyA"},"mark":{"type":"line","filled":true,"interpolate":"linear-closed","strokeWidth":0},"encoding":{"color":{"field":"c","type":"nominal","legend":null,"scale":{"domain":["0","1","2","3","4","5","6","7","8","9","10","11","12","13","14","15","16","17","18"],"range":["#F8766D","#E58739","#D89008","#BE9B0A","#A3A500","#7CAE00","#39B600","#00BE67","#00C19F","#00BFB0","#00BFC4","#00B9E3","#00ADFA","#7997FF","#B983FF","#D575FE","#F564E3","#FF61CC","#FF6C91"]}},"detail":{"field":"p"},"order":{"value":null}}},
{"data":{"name":"polyA"},"mark":{"type":"line","interpolate":"linear-closed","strokeWidth":2.6,"strokeDash":[1,1.8],"opacity":0.85},"encoding":{"color":{"field":"c","type":"nominal","legend":null},"detail":{"field":"p"},"order":{"value":null}}},
{"data":{"name":"specksA"},"mark":{"type":"circle","size":5,"opacity":0.85},"encoding":{"color":{"field":"c","type":"nominal","legend":null}}},
{"data":{"name":"regionsA"},"mark":{"type":"line","interpolate":"cardinal-closed","color":"#9a9a9a","strokeWidth":0.8,"strokeDash":[3,2]},"encoding":{"detail":{"field":"r"},"order":{"value":null}}},
{"data":{"values":[{"t":"3","x":-4.47,"y":9.85},{"t":"2","x":-2.6,"y":7.53},{"t":"13","x":-7.28,"y":8.3},{"t":"15","x":-6.78,"y":3.01},{"t":"6","x":-4.62,"y":2.24},{"t":"5","x":-1.54,"y":2.05},{"t":"7","x":-3.14,"y":-1.81},{"t":"16","x":-5.59,"y":-5.02},{"t":"4","x":-6.04,"y":-7.45},{"t":"8","x":-6.75,"y":-12.43},{"t":"9","x":-3.37,"y":-9.88},{"t":"11","x":-0.92,"y":-8.3},{"t":"10","x":1.6,"y":-8.96},{"t":"12","x":0.71,"y":-11.66},{"t":"18","x":1.66,"y":-6.41},{"t":"17","x":-1.57,"y":-15.75},{"t":"0","x":7.16,"y":2.39},{"t":"1","x":8.05,"y":-1.85},{"t":"14","x":11.51,"y":0.39}]},
"layer":[{"mark":{"type":"text","fontSize":10.5,"stroke":"#fff","strokeWidth":2.5,"opacity":0.85},"encoding":{"text":{"field":"t"}}},{"mark":{"type":"text","fontSize":10.5,"color":"#111"},"encoding":{"text":{"field":"t"}}}]},
{"data":{"values":[{"t":"Neuronal","x":-16.6,"y":12.47},{"t":"Early neurons","x":-0.18,"y":14.4},{"t":"Inhibitory","x":0.95,"y":12.66},{"t":"Excitatory","x":0.95,"y":11.2},{"t":"Dopaminergic","x":0.95,"y":9.73},{"t":"Apoptotic","x":0.95,"y":8.26},{"t":"NSCs","x":7.69,"y":10.89},{"t":"G1/S","x":8.82,"y":9.19},{"t":"G2/M","x":8.82,"y":7.72},{"t":"Gliogenic","x":8.82,"y":6.18},{"t":"Neurons","x":-16.51,"y":0.08},{"t":"Inhibitory, GABAergic","x":-15.5,"y":-1.35},{"t":"Maturing","x":-15.5,"y":-2.82},{"t":"Excitatory, gluta-","x":-15.5,"y":-4.25},{"t":"matergic","x":-15.5,"y":-5.44},{"t":"Early astrocytes","x":4.26,"y":-6.95},{"t":"Young astrocytes","x":5.18,"y":-8.57},{"t":"Radial glia,","x":5.18,"y":-10.04},{"t":"early astrocytes","x":5.18,"y":-11.24},{"t":"Glia","x":5.18,"y":-12.82},{"t":"Radial glia","x":5.18,"y":-14.17},{"t":"Pericyte-like","x":5.18,"y":-15.52},{"t":"Glial precursors","x":5.18,"y":-16.99},{"t":"Astrocytes/OPCs","x":-16.39,"y":-17.3},{"t":"Mature astrocytes","x":-15.44,"y":-18.92},{"t":"OPCs","x":-15.44,"y":-20.58},{"t":"Astrocytes","x":-15.44,"y":-22.2},{"t":"Astrocytic/glial","x":8.25,"y":-23.47}]},"mark":{"type":"text","align":"left","fontSize":10.4},"encoding":{"text":{"field":"t"}}},
{"data":{"values":[{"c":"2","x":0.18,"y":12.66},{"c":"3","x":0.18,"y":11.2},{"c":"13","x":0.12,"y":9.73},{"c":"15","x":0.18,"y":8.19},{"c":"0","x":8.05,"y":9.19},{"c":"1","x":8.05,"y":7.72},{"c":"14","x":8.05,"y":6.18},{"c":"5","x":-16.09,"y":-1.35},{"c":"6","x":-16.09,"y":-2.82},{"c":"7","x":-16.09,"y":-4.25},{"c":"9","x":4.62,"y":-8.57},{"c":"10","x":4.62,"y":-10.04},{"c":"11","x":4.62,"y":-12.82},{"c":"12","x":4.62,"y":-14.17},{"c":"17","x":4.62,"y":-15.52},{"c":"18","x":4.62,"y":-16.99},{"c":"4","x":-16.04,"y":-18.92},{"c":"8","x":-16.04,"y":-20.58},{"c":"16","x":-16.04,"y":-22.2}]},
"layer":[{"mark":{"type":"circle","size":85,"opacity":1},"encoding":{"color":{"field":"c","type":"nominal","legend":null}}},{"mark":{"type":"text","fontSize":7,"color":"#fff"},"encoding":{"text":{"field":"c"}}}]},
{"data":{"values":[{"t":"a","x":-16.65,"y":14.25}]},"mark":{"type":"text","align":"left","fontSize":16,"fontWeight":"bold","color":"#000"},"encoding":{"text":{"field":"t"}}}
]},
{"width":203.3,"height":202.3,
"encoding":{"x":{"field":"x","type":"quantitative","scale":{"domain":[-12.35,13.4],"nice":false,"zero":false},"axis":{"values":[-10,-5,0,5,10],"title":"UMAP 1","titleX":101,"titleY":25}},"y":{"field":"y","type":"quantitative","scale":{"domain":[-14.8,10.7],"nice":false,"zero":false},"axis":{"values":[-10,-5,0,5,10],"title":"UMAP 2","titleX":-23,"titleY":84}}},
"layer":[
{"data":{"name":"polyD"},"mark":{"type":"line","filled":true,"interpolate":"linear-closed","strokeWidth":0},"encoding":{"color":{"field":"c","type":"nominal","legend":null,"scale":{"domain":["a","b","c","d","e","f","g","h","i","j","k","h2","bm"],"range":["#9B0F9B","#7FB5E0","#2E73BE","#1C2480","#C8E67A","#9BD277","#78CB7E","#2AA84E","#0B6B3A","#5E8678","#515C53","#2E8B62","#86A6B8"]}},"detail":{"field":"p"},"order":{"value":null}}},
{"data":{"name":"polyD"},"mark":{"type":"line","interpolate":"linear-closed","strokeWidth":2,"strokeDash":[0.8,1.4],"opacity":0.85},"encoding":{"color":{"field":"c","type":"nominal","legend":null},"detail":{"field":"p"},"order":{"value":null}}},
{"data":{"name":"specksD"},"mark":{"type":"circle","size":5,"opacity":0.85},"encoding":{"color":{"field":"c","type":"nominal","legend":null}}},
{"data":{"values":[{"x":-8.6,"y":6},{"x":-8,"y":5.4},{"x":-7.4,"y":5.9},{"x":-8.3,"y":4.5},{"x":-5.5,"y":6.1},{"x":-4.6,"y":4.9},{"x":-7,"y":4.9},{"x":-6.2,"y":0.9},{"x":-5.9,"y":2.4},{"x":-4.4,"y":1.6},{"x":-3.8,"y":0.4},{"x":0.5,"y":-7.2},{"x":1.5,"y":-6.9},{"x":3.9,"y":-6.5},{"x":-2.6,"y":-8.6},{"x":-2,"y":-8.4}]},"mark":{"type":"circle","size":12,"color":"#fff","opacity":0.9}},
{"data":{"values":[{"t":"a","x":3.13,"y":5.93},{"t":"b","x":-5.5,"y":7.45},{"t":"c","x":-10.36,"y":2.78},{"t":"d","x":-10.79,"y":-2.4},{"t":"e","x":7.11,"y":4.97},{"t":"f","x":8.67,"y":7.07},{"t":"g","x":5.41,"y":0.55},{"t":"h","x":2.54,"y":1.68},{"t":"i","x":3.26,"y":-1.47},{"t":"j","x":-6.94,"y":2.78},{"t":"k","x":-2.58,"y":-0.84},{"t":"j","x":2.62,"y":-7.58},{"t":"b","x":4.65,"y":-8.21},{"t":"c","x":1.99,"y":-11.15},{"t":"k","x":-0.3,"y":-11.66},{"t":"d","x":-3.76,"y":-11.66}]},
"layer":[{"mark":{"type":"text","fontSize":10.5,"stroke":"#fff","strokeWidth":2.5,"opacity":0.8},"encoding":{"text":{"field":"t"}}},{"mark":{"type":"text","fontSize":10.5,"color":"#111"},"encoding":{"text":{"field":"t"}}}]},
{"data":{"values":[{"c":"a","t":"iCoMoNSCs","lx":15.14,"x":14.17,"y":3.28},{"c":"b","t":"Young","lx":15.14,"x":14.17,"y":1.68},{"c":"c","t":"Middle","lx":15.14,"x":14.17,"y":0.08},{"c":"d","t":"Old","lx":15.14,"x":14.17,"y":-1.52},{"c":"e","t":"iPS cells","lx":15.14,"x":14.17,"y":-3.16},{"c":"f","t":"Embryoid body","lx":15.14,"x":14.17,"y":-4.76},{"c":"g","t":"Neuroectoderm","lx":15.14,"x":14.17,"y":-6.36},{"c":"h","t":"Neuroepithelium","lx":15.14,"x":14.17,"y":-7.95},{"c":"i","t":"Organoid, 1 month","lx":15.14,"x":14.17,"y":-9.43},{"c":"j","t":"Organoid, 2 months","lx":15.14,"x":14.17,"y":-11.03},{"c":"k","t":"Organoid, 4 months","lx":15.14,"x":14.17,"y":-12.58}]},
"layer":[{"mark":{"type":"circle","size":85,"opacity":1},"encoding":{"color":{"field":"c","type":"nominal","legend":null}}},{"mark":{"type":"text","fontSize":7,"color":"#fff"},"encoding":{"text":{"field":"c"}}},{"mark":{"type":"text","fontSize":10.5,"align":"left"},"encoding":{"x":{"field":"lx","type":"quantitative"},"text":{"field":"t"}}}]},
{"data":{"values":[{"t":"d","x":-19.8,"y":11.45},{"t":"f","x":-9.3,"y":-21.1}]},"mark":{"type":"text","align":"left","fontSize":16,"fontWeight":"bold","color":"#000"},"encoding":{"text":{"field":"t"}}}
]}
]},
{"bounds":"flush","spacing":19,"resolve":{"scale":{"color":"independent"}},"vconcat":[
{"width":1,"height":1,"data":{"values":[{"x":0}]},"mark":{"type":"point","opacity":0}},
{"bounds":"flush","spacing":232,"resolve":{"scale":{"color":"independent"}},"vconcat":[
{"bounds":"flush","spacing":36,"resolve":{"scale":{"color":"independent"}},"hconcat":[
{"width":136,"height":135,
"encoding":{"x":{"field":"x","type":"quantitative","scale":{"domain":[-11.27,14.15],"nice":false,"zero":false},"axis":{"values":[-10,-5,0,5,10],"title":"UMAP 1","titleX":71,"titleY":23}},"y":{"field":"y","type":"quantitative","scale":{"domain":[-18.25,14.9],"nice":false,"zero":false},"axis":{"values":[-10,0,10],"title":"UMAP 2","titleX":-23,"titleY":61}}},
"layer":[
{"data":{"name":"polyA"},"mark":{"type":"line","filled":true,"interpolate":"linear-closed","strokeWidth":0},"encoding":{"color":{"field":"c","type":"nominal","legend":null,"scale":{"domain":["0","1","14","2","3","13","15","10","12","6","7","9","11","17","18","5","4","8","16"],"range":["#8B0A8B","#8B0A8B","#8B0A8B","#83B6E2","#83B6E2","#1F6DB8","#1F6DB8","#83B6E2","#83B6E2","#1F6DB8","#1F6DB8","#1F6DB8","#1F6DB8","#1F6DB8","#83B6E2","#1B2380","#1B2380","#1B2380","#1B2380"]}},"detail":{"field":"p"},"order":{"value":null}}},
{"data":{"name":"polyA"},"mark":{"type":"line","interpolate":"linear-closed","strokeWidth":1.4,"strokeDash":[0.7,1],"opacity":0.85},"encoding":{"color":{"field":"c","type":"nominal","legend":null},"detail":{"field":"p"},"order":{"value":null}}},
{"data":{"name":"specksA"},"mark":{"type":"circle","size":2,"opacity":0.8},"encoding":{"color":{"field":"c","type":"nominal","legend":null}}},
{"data":{"values":[{"c":"0","t":"iCoMoNSCs","x":-8.85,"lx":-7.1,"y":-28.1},{"c":"3","t":"Young","x":-8.85,"lx":-7.1,"y":-31.4},{"c":"6","t":"Middle","x":5.17,"lx":6.6,"y":-28.1},{"c":"5","t":"Old","x":5.17,"lx":6.6,"y":-31.4}]},
"layer":[{"mark":{"type":"circle","size":85,"opacity":1},"encoding":{"color":{"field":"c","type":"nominal","legend":null}}},{"mark":{"type":"text","fontSize":10.2,"align":"left"},"encoding":{"x":{"field":"lx","type":"quantitative"},"text":{"field":"t"}}}]},
{"data":{"values":[{"t":"b","x":-17.6,"y":18.6}]},"mark":{"type":"text","align":"left","fontSize":16,"fontWeight":"bold","color":"#000"},"encoding":{"text":{"field":"t"}}}
]},
{"width":136,"height":135,
"encoding":{"x":{"field":"x","type":"quantitative","scale":{"domain":[-11.27,14.15],"nice":false,"zero":false},"axis":{"values":[-10,-5,0,5,10],"title":"UMAP 1","titleX":72,"titleY":23}},"y":{"field":"y","type":"quantitative","scale":{"domain":[-18.25,14.9],"nice":false,"zero":false},"axis":{"values":[-10,0,10],"title":"UMAP 2","titleX":-24,"titleY":61}}},
"layer":[
{"data":{"name":"polyA"},"mark":{"type":"line","filled":true,"interpolate":"linear-closed","strokeWidth":0},"encoding":{"color":{"field":"c","type":"nominal","legend":null,"scale":{"domain":["0","14","1","18","2","3","4","5","6","7","8","9","10","11","12","13","15","16","17"],"range":["#8FA6D3","#8FA6D3","#1DB954","#1DB954","#F8766D","#F8766D","#F8766D","#F8766D","#F8766D","#F8766D","#F8766D","#F8766D","#F8766D","#F8766D","#F8766D","#F8766D","#F8766D","#F8766D","#F8766D"]}},"detail":{"field":"p"},"order":{"value":null}}},
{"data":{"name":"polyA"},"mark":{"type":"line","interpolate":"linear-closed","strokeWidth":1.4,"strokeDash":[0.7,1],"opacity":0.85},"encoding":{"color":{"field":"c","type":"nominal","legend":null},"detail":{"field":"p"},"order":{"value":null}}},
{"data":{"name":"specksA"},"mark":{"type":"circle","size":2,"opacity":0.8},"encoding":{"color":{"field":"c","type":"nominal","legend":null}}},
{"data":{"values":[{"c":"3","t":"G1 phase","x":-2.87,"lx":-1.43,"y":-28.77},{"c":"0","t":"S phase","x":-2.87,"lx":-1.43,"y":-31.89},{"c":"1","t":"G2/M phase","x":-2.87,"lx":-1.43,"y":-35}]},
"layer":[{"mark":{"type":"circle","size":85,"opacity":1},"encoding":{"color":{"field":"c","type":"nominal","legend":null}}},{"mark":{"type":"text","fontSize":10.3,"align":"left"},"encoding":{"x":{"field":"lx","type":"quantitative"},"text":{"field":"t"}}}]},
{"data":{"values":[{"t":"c","x":-16.4,"y":18.6}]},"mark":{"type":"text","align":"left","fontSize":16,"fontWeight":"bold","color":"#000"},"encoding":{"text":{"field":"t"}}}
]}
]},
{"bounds":"flush","spacing":1.3,"resolve":{"scale":{"color":"independent"}},"hconcat":[
{"width":1,"height":1,"data":{"values":[{"x":0}]},"mark":{"type":"point","opacity":0}},
{"width":304.7,"height":303.7,
"encoding":{"x":{"field":"x","type":"quantitative","scale":{"domain":[-12.5,13.47],"nice":false,"zero":false},"axis":{"values":[-10,-5,0,5,10],"title":"UMAP 1","titleX":150,"titleY":25}},"y":{"field":"y","type":"quantitative","scale":{"domain":[-14.8,10.78],"nice":false,"zero":false},"axis":{"values":[-10,0,5,10],"title":"UMAP 2","titleX":-25,"titleY":143}}},
"layer":[
{"data":{"values":[{"x":-12.8,"x2":-12.2,"y":-2.92,"y2":-7.98}]},"mark":{"type":"rect","color":"#fff"},"encoding":{"x2":{"field":"x2"},"y2":{"field":"y2"}}},
{"data":{"name":"polyE"},"mark":{"type":"line","filled":true,"interpolate":"linear-closed","strokeWidth":0},"encoding":{"color":{"field":"c","type":"nominal","legend":null,"scale":{"domain":["0","1","2","3","4","5","6","7","8","9","10","11","12","13","14","15","16","17","18","19","20","21"],"range":["#F8766D","#EE8042","#E18A00","#C49A00","#AD9F00","#8FAA00","#6BB100","#00BA38","#00BE6C","#00BF88","#00C1A3","#00BFC4","#00B8E5","#2CB8EE","#00A9FF","#7C96FF","#C09AFF","#D877F0","#EE6BE5","#F564C8","#FF62B0","#F56BC0"]}},"detail":{"field":"p"},"order":{"value":null}}},
{"data":{"name":"polyE"},"mark":{"type":"line","interpolate":"linear-closed","strokeWidth":2.8,"strokeDash":[1,1.8],"opacity":0.85},"encoding":{"color":{"field":"c","type":"nominal","legend":null},"detail":{"field":"p"},"order":{"value":null}}},
{"data":{"name":"specksE"},"mark":{"type":"circle","size":5,"opacity":0.85},"encoding":{"color":{"field":"c","type":"nominal","legend":null}}},
{"data":{"values":[{"t":"0","x":-5.99,"y":5.37},{"t":"18","x":-8.78,"y":5.73},{"t":"13","x":-6.88,"y":1.8},{"t":"8","x":-3.27,"y":3.31},{"t":"10","x":-3.32,"y":1.24},{"t":"4","x":-9.52,"y":0.17},{"t":"7","x":-7.73,"y":-2.13},{"t":"1","x":5.17,"y":4.16},{"t":"2","x":7.53,"y":5.96},{"t":"3","x":9.03,"y":2.5},{"t":"6","x":6.05,"y":0.73},{"t":"21","x":3.55,"y":-0.84},{"t":"20","x":12.07,"y":-1.57},{"t":"11","x":7.53,"y":-3.54},{"t":"16","x":2.07,"y":-3.48},{"t":"17","x":0.23,"y":-4.75},{"t":"19","x":-2.41,"y":-6.35},{"t":"15","x":-0.43,"y":-6.77},{"t":"5","x":3.64,"y":-7.42},{"t":"9","x":-2.33,"y":-9.33},{"t":"12","x":1.28,"y":-10.51},{"t":"14","x":-2.64,"y":-13.17}]},
"layer":[{"mark":{"type":"text","fontSize":10.5,"stroke":"#fff","strokeWidth":2.5,"opacity":0.85},"encoding":{"text":{"field":"t"}}},{"mark":{"type":"text","fontSize":10.5,"color":"#111"},"encoding":{"text":{"field":"t"}}}]},
{"data":{"values":[{"t":"Ventral progenitors/neurons","x":-7.3,"y":9.07},{"t":"Ventral progenitors/neurons","x":-7.3,"y":8.09},{"t":"Cortical neurons","x":-13.89,"y":-4.55},{"t":"Midbrain/hindbrain cells","x":-13.89,"y":-5.53},{"t":"Cortical neurons","x":-13.89,"y":-6.57},{"t":"RGCs","x":-10.43,"y":-8.62},{"t":"Gliogenic","x":-10.43,"y":-9.72},{"t":"(RGCs/astrocytes)","x":-10.43,"y":-10.67},{"t":"RGCs","x":-10.43,"y":-11.91},{"t":"Early RGCs","x":-10.43,"y":-12.95},{"t":"Early RGCs","x":-10.43,"y":-13.96},{"t":"Intermediate","x":6.28,"y":-5.65},{"t":"progenitors/early","x":6.28,"y":-6.52},{"t":"cortical neurons","x":6.28,"y":-7.39},{"t":"Neuroepithelial/","x":6.28,"y":-8.9},{"t":"neuroectodermal-","x":6.28,"y":-9.8},{"t":"like cells","x":6.28,"y":-10.7},{"t":"Choroid plexus/","x":6.28,"y":-12.11},{"t":"mensenchymal-","x":6.28,"y":-12.98},{"t":"like cells","x":6.28,"y":-13.88}]},"mark":{"type":"text","align":"left","fontSize":10.4},"encoding":{"text":{"field":"t"}}},
{"data":{"values":[{"c":"0","x":-7.9,"y":9.07},{"c":"8","x":-7.9,"y":8.09},{"c":"4","x":-14.52,"y":-4.55},{"c":"7","x":-14.52,"y":-5.53},{"c":"10","x":-14.52,"y":-6.57},{"c":"5","x":-11.08,"y":-8.62},{"c":"9","x":-11.08,"y":-9.72},{"c":"12","x":-11.08,"y":-11.91},{"c":"15","x":-11.08,"y":-12.95},{"c":"19","x":-11.08,"y":-13.96},{"c":"16","x":5.68,"y":-5.65},{"c":"17","x":5.68,"y":-8.9},{"c":"21","x":5.68,"y":-12.11}]},
"layer":[{"mark":{"type":"circle","size":85,"opacity":1},"encoding":{"color":{"field":"c","type":"nominal","legend":null}}},{"mark":{"type":"text","fontSize":7,"color":"#fff"},"encoding":{"text":{"field":"c"}}}]},
{"data":{"values":[{"t":"e","x":-15.7,"y":10.56}]},"mark":{"type":"text","align":"left","fontSize":16,"fontWeight":"bold","color":"#000"},"encoding":{"text":{"field":"t"}}}
]}
]}
]}
]}
]},
{"bounds":"flush","spacing":113,"resolve":{"scale":{"color":"independent","fill":"independent"}},"hconcat":[
{"width":1,"height":1,"data":{"values":[{"x":0}]},"mark":{"type":"point","opacity":0}},
{"width":435,"height":86,
"encoding":{"x":{"field":"cluster","type":"nominal","scale":{"domain":["0","1","2","3","4","5","6","7","8","9","10","11","12","13","14","15","16","17","18","19","20","21"],"type":"band","paddingInner":0,"paddingOuter":0},"axis":{"labels":false,"ticks":false,"domain":false,"title":"Cluster ID","titleX":220,"titleY":4}},"y":{"field":"row","type":"nominal","scale":{"domain":["Cell origin","iCoMoNSCs","Organoid","Cluster"],"type":"band","paddingInner":0,"paddingOuter":0},"axis":{"ticks":false,"domain":false,"title":null,"labelPadding":8,"labelFontSize":10.5,"labelExpr":"datum.label=='Cluster'?'':datum.label"}}},
"layer":[
{"data":{"values":[{"cluster":"0","row":"iCoMoNSCs"}]},"mark":{"type":"rect","width":1.5,"xOffset":-11,"color":"#3B6FB6"}},
{"data":{"values":[{"cluster":"0","row":"Organoid"}]},"mark":{"type":"rect","width":1.5,"xOffset":-11,"color":"#3DAA6E"}},
{"data":{"name":"heat"},"mark":{"type":"rect","stroke":"#fff","strokeWidth":0.6},"encoding":{"color":{"field":"value","type":"quantitative","scale":{"domain":[0,100],"range":["#f4f8fb","#a8cfe0","#17708f"]},"legend":{"orient":"none","legendX":445,"legendY":3,"title":["% of","cells"],"titleFontWeight":"normal","titleFontSize":10.5,"titleLineHeight":13,"titleColor":"#222","titleFont":"Liberation Sans","titlePadding":5,"gradientLength":30,"gradientThickness":10,"values":[0,50,100],"labelFontSize":10.5,"labelOverlap":false,"labelColor":"#222","labelFont":"Liberation Sans","gradientStrokeWidth":0}}}},
{"data":{"name":"heat"},"mark":{"type":"text","fontSize":8.3},"encoding":{"text":{"field":"value"},"fill":{"condition":{"test":"datum.value>80","value":"#fff"},"value":"#222"}}},
{"data":{"values":[{"cluster":"0","row":"Cell origin"},{"cluster":"4","row":"Cell origin"},{"cluster":"5","row":"Cell origin"},{"cluster":"7","row":"Cell origin"},{"cluster":"8","row":"Cell origin"},{"cluster":"9","row":"Cell origin"},{"cluster":"10","row":"Cell origin"},{"cluster":"12","row":"Cell origin"},{"cluster":"15","row":"Cell origin"},{"cluster":"16","row":"Cell origin"},{"cluster":"17","row":"Cell origin"},{"cluster":"19","row":"Cell origin"},{"cluster":"21","row":"Cell origin"}]},"mark":{"type":"text","text":"★","font":"DejaVu Sans","fontSize":10,"color":"#000","dy":4}},
{"data":{"values":[{"cluster":"0","row":"Cluster"},{"cluster":"1","row":"Cluster"},{"cluster":"2","row":"Cluster"},{"cluster":"3","row":"Cluster"},{"cluster":"4","row":"Cluster"},{"cluster":"5","row":"Cluster"},{"cluster":"6","row":"Cluster"},{"cluster":"7","row":"Cluster"},{"cluster":"8","row":"Cluster"},{"cluster":"9","row":"Cluster"},{"cluster":"10","row":"Cluster"},{"cluster":"11","row":"Cluster"},{"cluster":"12","row":"Cluster"},{"cluster":"13","row":"Cluster"},{"cluster":"14","row":"Cluster"},{"cluster":"15","row":"Cluster"},{"cluster":"16","row":"Cluster"},{"cluster":"17","row":"Cluster"},{"cluster":"18","row":"Cluster"},{"cluster":"19","row":"Cluster"},{"cluster":"20","row":"Cluster"},{"cluster":"21","row":"Cluster"}]},
"layer":[{"mark":{"type":"circle","size":130,"opacity":1,"yOffset":-2.5},"encoding":{"fill":{"field":"cluster","type":"nominal","legend":null,"scale":{"domain":["0","1","2","3","4","5","6","7","8","9","10","11","12","13","14","15","16","17","18","19","20","21"],"range":["#F8766D","#EE8042","#E18A00","#C49A00","#AD9F00","#8FAA00","#6BB100","#00BA38","#00BE6C","#00BF88","#00C1A3","#00BFC4","#00B8E5","#5CC8F5","#00A9FF","#7C96FF","#C09AFF","#D877F0","#EE6BE5","#F564C8","#FF62B0","#F56B9A"]}}}},{"mark":{"type":"text","fontSize":8,"color":"#fff","dy":-2.5},"encoding":{"text":{"field":"cluster"}}}]}
]}
]}
]}
